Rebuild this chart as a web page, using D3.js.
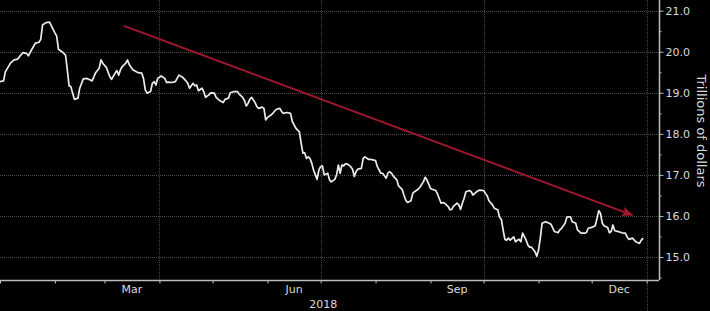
<!DOCTYPE html>
<html>
<head>
<meta charset="utf-8">
<script src="https://cdn.jsdelivr.net/npm/d3@7"></script>
<style>
  html, body { margin: 0; padding: 0; background: #000; }
  svg { display: block; }
</style>
</head>
<body>
<svg id="chart" width="710" height="311"></svg>
<script>
// daily values, 2018 (month-day, trillions of dollars)
var dates = [
  "01-01","01-03","01-04","01-07","01-09","01-11","01-12","01-14","01-16","01-17",
  "01-19","01-21","01-23","01-24","01-25","01-27","01-29","01-30","02-01","02-02",
  "02-03","02-05","02-07","02-08","02-09","02-10","02-11","02-12","02-14","02-15",
  "02-17","02-19","02-20","02-22","02-24","02-26","02-27","02-28","03-02","03-04",
  "03-05","03-07","03-08","03-09","03-10","03-11","03-13","03-14","03-15","03-17",
  "03-19","03-20","03-22","03-23","03-24","03-25","03-27","03-28","03-29","03-30",
  "03-31","04-02","04-04","04-05","04-06","04-08","04-10","04-11","04-12","04-14",
  "04-16","04-17","04-18","04-20","04-21","04-22","04-23","04-25","04-26","04-27",
  "04-29","04-30","05-02","05-03","05-05","05-07","05-08","05-10","05-11","05-13",
  "05-15","05-16","05-18","05-19","05-20","05-21","05-22","05-23","05-25","05-26",
  "05-27","05-29","05-30","05-31","06-01","06-03","06-04","06-06","06-08","06-09",
  "06-10","06-12","06-14","06-15","06-17","06-18","06-19","06-20","06-21","06-22",
  "06-23","06-24","06-25","06-26","06-27","06-28","06-29","06-30","07-01","07-02",
  "07-03","07-05","07-06","07-07","07-09","07-10","07-11","07-12","07-13","07-14",
  "07-15","07-16","07-18","07-19","07-20","07-21","07-22","07-24","07-25","07-26",
  "07-28","07-29","07-31","08-01","08-02","08-04","08-05","08-07","08-08","08-09",
  "08-10","08-11","08-13","08-14","08-16","08-17","08-18","08-19","08-21","08-22",
  "08-23","08-25","08-26","08-28","08-29","08-30","09-01","09-02","09-04","09-05",
  "09-07","09-08","09-09","09-11","09-12","09-13","09-14","09-16","09-17","09-18",
  "09-19","09-20","09-21","09-23","09-24","09-25","09-26","09-28","09-29","10-01",
  "10-02","10-03","10-04","10-06","10-07","10-09","10-10","10-11","10-12","10-13",
  "10-14","10-15","10-16","10-18","10-19","10-20","10-21","10-22","10-23","10-25",
  "10-26","10-27","10-28","10-30","10-31","11-01","11-02","11-03","11-05","11-06",
  "11-07","11-08","11-10","11-12","11-13","11-14","11-16","11-17","11-19","11-20",
  "11-22","11-23","11-25","11-27","11-28","11-29","12-01","12-03","12-04","12-05",
  "12-06","12-07","12-08","12-10","12-11","12-12","12-13","12-14","12-16","12-18",
  "12-20","12-21","12-22","12-24","12-26","12-28","12-29","12-30"
];
var values = [
  19.27,19.29,19.51,19.73,19.80,19.82,19.88,19.98,19.96,19.90,
  20.06,20.21,20.23,20.30,20.65,20.71,20.72,20.63,20.46,20.38,
  20.06,20.00,19.92,19.56,19.17,19.15,18.99,18.84,18.87,19.11,
  19.34,19.35,19.33,19.29,19.49,19.60,19.80,19.72,19.62,19.39,
  19.33,19.48,19.54,19.43,19.56,19.64,19.72,19.80,19.68,19.56,
  19.51,19.49,19.48,19.35,19.07,18.99,19.03,19.23,19.27,19.19,
  19.35,19.41,19.35,19.25,19.26,19.25,19.27,19.35,19.43,19.38,
  19.29,19.23,19.11,19.23,19.17,19.19,19.05,19.11,19.03,18.89,
  18.95,19.00,18.99,18.89,18.81,18.76,18.84,18.87,19.00,19.03,
  19.03,18.97,18.89,18.81,18.68,18.74,18.84,18.89,18.76,18.66,
  18.62,18.65,18.62,18.34,18.40,18.46,18.50,18.60,18.62,18.54,
  18.50,18.52,18.50,18.30,18.14,18.09,18.05,17.77,17.53,17.54,
  17.40,17.44,17.40,17.28,17.12,17.00,16.89,17.12,17.20,17.22,
  17.00,17.04,16.88,16.83,16.89,17.00,17.24,17.04,17.24,17.22,
  17.27,17.27,17.20,17.14,16.96,17.08,17.14,17.16,17.40,17.44,
  17.38,17.38,17.36,17.35,17.20,17.04,17.04,16.92,17.05,17.08,
  17.04,16.97,16.88,16.73,16.65,16.51,16.39,16.33,16.37,16.55,
  16.59,16.65,16.70,16.83,16.94,16.88,16.67,16.65,16.62,16.53,
  16.31,16.33,16.31,16.23,16.15,16.16,16.24,16.31,16.27,16.16,
  16.31,16.43,16.59,16.62,16.59,16.51,16.55,16.62,16.63,16.62,
  16.55,16.49,16.37,16.27,16.19,16.15,15.97,15.92,15.66,15.43,
  15.41,15.46,15.41,15.49,15.37,15.41,15.43,15.37,15.58,15.41,
  15.29,15.24,15.24,15.13,15.02,15.17,15.46,15.82,15.86,15.84,
  15.82,15.80,15.62,15.59,15.66,15.70,15.82,15.97,15.98,15.86,
  15.82,15.66,15.58,15.58,15.59,15.70,15.72,15.76,15.94,16.13,
  16.06,15.82,15.76,15.72,15.59,15.62,15.78,15.64,15.62,15.59,
  15.58,15.49,15.43,15.46,15.37,15.33,15.41,15.46
];

var yTicks = [15, 16, 17, 18, 19, 20, 21];
var yMinorTicks = [14.5, 15.5, 16.5, 17.5, 18.5, 19.5, 20.5];
var monthLabels = ["Mar", "Jun", "Sep", "Dec"];
var monthLabelStarts = ["2018-03-01", "2018-06-01", "2018-09-01", "2018-12-01"];
var gridDates = ["2018-04-01", "2018-07-01", "2018-10-01", "2019-01-01"];
var yearLabel = "2018";
var axisTitle = "Trillions of dollars";

// trend arrow: start and end (date, value)
var arrowDates = ["2018-03-12", "2018-12-24"];
var arrowValues = [20.63, 16.02];

var parse = d3.utcParse("%Y-%m-%d");
var data = dates.map(function(d, i) {
  return { date: parse("2018-" + d), value: values[i] };
});

var width = 710, height = 311;
var plotRight = 659, plotBottom = 280;
var textColor = "#dadada";

var svg = d3.select("#chart");
svg.append("rect").attr("width", width).attr("height", height).attr("fill", "#000");

var x = d3.scaleUtc()
  .domain([parse("2018-01-01"), parse("2019-01-08")])
  .range([0, plotRight]);
var y = d3.scaleLinear()
  .domain([14.44, 21.26])
  .range([plotBottom, 0]);

// grid
var grid = svg.append("g").attr("class", "grid");
grid.selectAll("line.h")
  .data(yTicks)
  .enter().append("line")
  .attr("class", "h")
  .attr("x1", 0).attr("x2", plotRight)
  .attr("y1", d => Math.round(y(d)) + 0.5)
  .attr("y2", d => Math.round(y(d)) + 0.5)
  .attr("stroke", "#4a4a4a")
  .attr("stroke-dasharray", "1,1");
grid.selectAll("line.v")
  .data(gridDates)
  .enter().append("line")
  .attr("class", "v")
  .attr("x1", d => Math.round(x(parse(d))) + 0.5)
  .attr("x2", d => Math.round(x(parse(d))) + 0.5)
  .attr("y1", 0)
  .attr("y2", d => d.slice(5) === "01-01" ? height : plotBottom)
  .attr("stroke", "#4a4a4a")
  .attr("stroke-dasharray", "1,1");

// y axis (right)
var yAxis = svg.append("g")
  .attr("transform", "translate(" + (plotRight + 0.5) + ",0)")
  .call(d3.axisRight(y).tickValues(yTicks).tickFormat(d3.format(".1f")).tickSize(4).tickPadding(2));
svg.append("g")
  .attr("transform", "translate(" + (plotRight + 0.5) + ",0)")
  .call(d3.axisRight(y).tickValues(yMinorTicks).tickFormat("").tickSize(2))
  .select(".domain").remove();

yAxis.select(".domain")
  .attr("d", "M0,0V" + plotBottom)
  .attr("stroke", "#bdbdbd")
  .attr("stroke-width", 1.5);
svg.selectAll(".tick line").attr("stroke", "#bdbdbd");
yAxis.selectAll(".tick text")
  .attr("fill", textColor)
  .style("font-family", "DejaVu Sans")
  .style("font-size", "11px");

svg.append("text")
  .attr("transform", "translate(697," + 131 + ") rotate(90)")
  .attr("text-anchor", "middle")
  .attr("fill", textColor)
  .style("font-family", "DejaVu Sans")
  .style("font-size", "13px")
  .text(axisTitle);

// x axis (bottom)
var xAxis = svg.append("g")
  .attr("transform", "translate(0," + (plotBottom + 0.5) + ")")
  .call(d3.axisBottom(x)
    .tickValues(d3.utcMonth.range(parse("2018-01-01"), parse("2019-01-02")))
    .tickFormat("")
    .tickSize(3));
xAxis.select(".domain")
  .attr("d", "M0,0H" + plotRight)
  .attr("stroke", "#bdbdbd")
  .attr("stroke-width", 1.5);
xAxis.selectAll(".tick line").attr("stroke", "#bdbdbd");

svg.selectAll("text.month")
  .data(monthLabels)
  .enter().append("text")
  .attr("class", "month")
  .attr("x", function(d, i) {
    var s = parse(monthLabelStarts[i]);
    return (x(s) + x(d3.utcMonth.offset(s, 1))) / 2;
  })
  .attr("y", 293)
  .attr("text-anchor", "middle")
  .attr("fill", textColor)
  .style("font-family", "DejaVu Sans")
  .style("font-size", "11px")
  .text(d => d);

svg.append("text")
  .attr("x", (x(parse("2018-01-01")) + x(parse("2019-01-01"))) / 2)
  .attr("y", 308)
  .attr("text-anchor", "middle")
  .attr("fill", textColor)
  .style("font-family", "DejaVu Sans")
  .style("font-size", "11px")
  .text(yearLabel);

// series line
var line = d3.line()
  .x(d => x(d.date))
  .y(d => y(d.value));
svg.append("path")
  .datum(data)
  .attr("fill", "none")
  .attr("stroke", "#ececec")
  .attr("stroke-width", 1.7)
  .attr("stroke-linejoin", "round")
  .attr("d", line);

// trend arrow
svg.append("defs").append("marker")
  .attr("id", "arrowhead")
  .attr("viewBox", "0 0 10 10")
  .attr("refX", 9).attr("refY", 5)
  .attr("markerWidth", 6.5).attr("markerHeight", 6.5)
  .attr("markerUnits", "strokeWidth")
  .attr("orient", "auto")
  .append("path")
  .attr("d", "M0,1L10,5L0,9L2,5Z")
  .attr("fill", "#a3172f");

svg.append("line")
  .attr("x1", x(parse(arrowDates[0])))
  .attr("y1", y(arrowValues[0]))
  .attr("x2", x(parse(arrowDates[1])))
  .attr("y2", y(arrowValues[1]))
  .attr("stroke", "#a3172f")
  .attr("stroke-width", 1.8)
  .attr("marker-end", "url(#arrowhead)");
</script>
</body>
</html>
